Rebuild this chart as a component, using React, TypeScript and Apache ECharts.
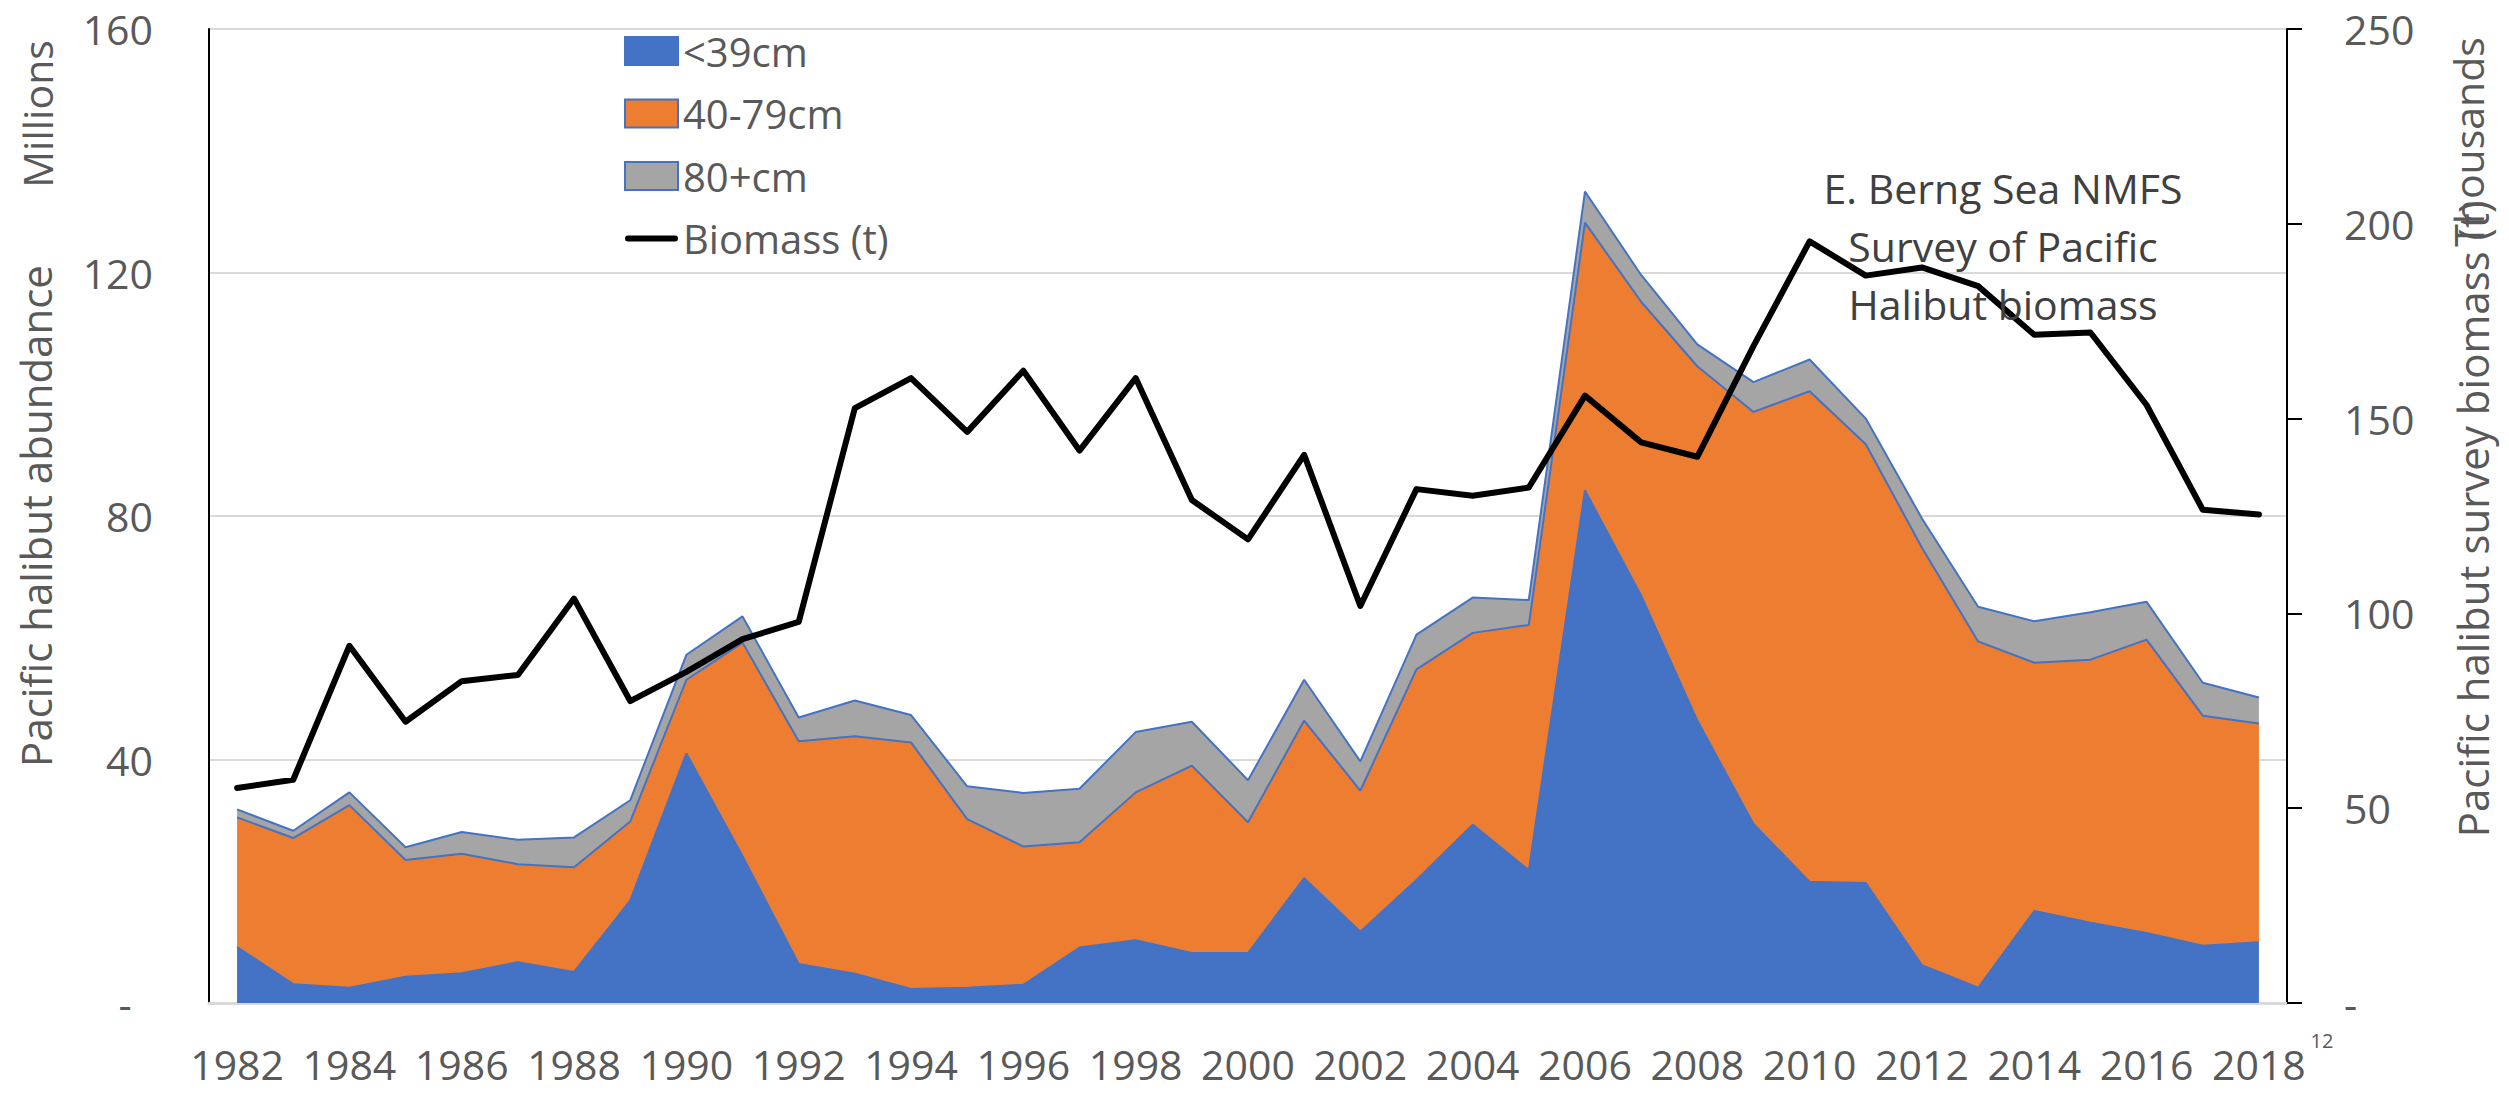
import React, { useEffect, useRef } from "react";
import * as echarts from "echarts";

const years = [
  "1982", "1983", "1984", "1985", "1986", "1987", "1988", "1989", "1990", "1991",
  "1992", "1993", "1994", "1995", "1996", "1997", "1998", "1999", "2000", "2001",
  "2002", "2003", "2004", "2005", "2006", "2007", "2008", "2009", "2010", "2011",
  "2012", "2013", "2014", "2015", "2016", "2017", "2018",
];

// Abundance (millions), stacked
const small = [
  9.2, 3.1, 2.5, 4.3, 4.9, 6.7, 5.1, 16.8, 41.0, 24.1,
  6.4, 4.8, 2.3, 2.5, 3.0, 9.1, 10.3, 8.2, 8.2, 20.5,
  11.7, 20.2, 29.3, 21.8, 84.2, 66.9, 46.4, 29.4, 19.9, 19.7,
  6.2, 2.5, 15.1, 13.2, 11.5, 9.4, 10.0,
];
const medium = [
  21.3, 24.0, 30.0, 19.2, 19.6, 16.1, 17.2, 13.0, 12.1, 35.1,
  36.6, 39.0, 40.5, 27.7, 22.7, 17.3, 24.3, 30.8, 21.5, 25.9,
  23.2, 34.6, 31.5, 40.3, 44.0, 48.3, 58.2, 67.7, 80.6, 72.1,
  68.6, 56.9, 40.8, 43.2, 48.2, 37.8, 35.9,
];
const large = [
  1.3, 1.2, 2.1, 2.1, 3.6, 4.0, 4.9, 3.5, 4.1, 4.3,
  3.9, 5.9, 4.5, 5.4, 8.8, 8.8, 9.9, 7.2, 6.9, 6.7,
  4.8, 5.7, 5.8, 4.1, 5.1, 4.4, 3.6, 4.9, 5.2, 4.2,
  4.8, 5.7, 6.8, 7.8, 6.2, 5.4, 4.3,
];
// Biomass (thousand t)
const biomass = [
  55.2, 57.3, 91.7, 72.2, 82.6, 84.2, 103.8, 77.5, 85.0, 93.4,
  97.8, 152.7, 160.4, 146.6, 162.3, 141.8, 160.4, 129.1, 119.0, 140.7,
  101.9, 131.9, 130.2, 132.3, 155.9, 143.9, 140.2, 168.6, 195.5, 186.7,
  188.8, 184.0, 171.5, 172.1, 153.5, 126.6, 125.4,
];

const seriesNames = ["<39cm", "40-79cm", "80+cm", "Biomass (t)"];
const leftTicks = { min: 0, max: 160, interval: 40 };
const rightTicks = { min: 0, max: 250, interval: 50 };
const annotation = "E. Berng Sea NMFS\nSurvey of Pacific\nHalibut biomass";

const FONT = "'Open Sans', Lato, sans-serif";
const GREY_TEXT = "#595959";
const EDGE = "#4472C4";

export default function App() {
  const ref = useRef<HTMLDivElement>(null);

  useEffect(() => {
    document.body.style.margin = "0";
    const chart = echarts.init(ref.current!, null, { renderer: "svg" });

    const areaSeries = (name: string, data: number[], color: string) => ({
      name,
      type: "line",
      stack: "abund",
      yAxisIndex: 0,
      data,
      symbol: "none",
      showSymbol: false,
      itemStyle: { color, borderColor: EDGE, borderWidth: 2 },
      lineStyle: { color: EDGE, width: 2 },
      areaStyle: { color, opacity: 1 },
      z: 2,
    });

    const txt = (
      text: string,
      x: number,
      y: number,
      size: number,
      fill: string,
      rotation = 0,
      lineHeight?: number
    ) => ({
      type: "text",
      x,
      y,
      rotation,
      z: 100,
      style: {
        text,
        fill,
        fontSize: size,
        fontFamily: FONT,
        lineHeight: lineHeight || size,
        align: "center",
        verticalAlign: "middle",
        textAlign: "center",
        textVerticalAlign: "middle",
      },
    });

    chart.setOption({
      animation: false,
      backgroundColor: "#ffffff",
      grid: { left: 209, right: 222, top: 29, bottom: 92, containLabel: false },
      legend: {
        orient: "vertical",
        left: 624,
        top: 31,
        padding: 0,
        itemWidth: 53,
        itemHeight: 28,
        itemGap: 22.5,
        symbolKeepAspect: true,
        textStyle: { fontFamily: FONT, fontSize: 40, lineHeight: 40, color: GREY_TEXT },
        data: [
          { name: seriesNames[0], icon: "rect", itemStyle: { borderColor: EDGE, borderWidth: 2 } },
          { name: seriesNames[1], icon: "rect", itemStyle: { borderColor: EDGE, borderWidth: 2 } },
          { name: seriesNames[2], icon: "rect", itemStyle: { borderColor: EDGE, borderWidth: 2 } },
          {
            name: seriesNames[3],
            icon: "path://M3,0L50,0A3,3,0,0,1,50,6L3,6A3,3,0,0,1,3,0Z",
            itemStyle: { color: "#000000", borderWidth: 0 },
          },
        ],
      },
      xAxis: {
        type: "category",
        data: years,
        boundaryGap: true,
        axisLine: { show: true, lineStyle: { color: "#D9D9D9", width: 3 } },
        axisTick: { show: false },
        axisLabel: {
          interval: 1,
          margin: 40,
          fontFamily: FONT,
          fontSize: 41,
          color: GREY_TEXT,
        },
      },
      yAxis: [
        {
          type: "value",
          position: "left",
          min: leftTicks.min,
          max: leftTicks.max,
          interval: leftTicks.interval,
          axisLine: { show: true, lineStyle: { color: "#000000", width: 2 } },
          axisTick: { show: false },
          splitLine: { show: true, lineStyle: { color: "#D9D9D9", width: 2 } },
          axisLabel: {
            margin: 56,
            fontFamily: FONT,
            fontSize: 41,
            color: GREY_TEXT,
            formatter: (v: number) => (v === 0 ? "-\u00a0\u00a0" : String(v)),
          },
        },
        {
          type: "value",
          position: "right",
          min: rightTicks.min,
          max: rightTicks.max,
          interval: rightTicks.interval,
          axisLine: { show: true, lineStyle: { color: "#000000", width: 2 } },
          axisTick: { show: true, length: 15, inside: false, lineStyle: { color: "#000000", width: 2 } },
          splitLine: { show: false },
          axisLabel: {
            margin: 57,
            fontFamily: FONT,
            fontSize: 41,
            color: GREY_TEXT,
            formatter: (v: number) => (v === 0 ? "-" : String(v)),
          },
        },
      ],
      series: [
        areaSeries(seriesNames[0], small, "#4472C4"),
        areaSeries(seriesNames[1], medium, "#ED7D31"),
        areaSeries(seriesNames[2], large, "#A5A5A5"),
        {
          name: seriesNames[3],
          type: "line",
          yAxisIndex: 1,
          data: biomass,
          symbol: "none",
          showSymbol: false,
          itemStyle: { color: "#000000" },
          lineStyle: { color: "#000000", width: 6, join: "round", cap: "round" },
          z: 5,
        },
      ],
      graphic: [
        txt("Millions", 37, 114, 41, GREY_TEXT, Math.PI / 2),
        txt("Pacific halibut abundance", 35, 516, 42, GREY_TEXT, Math.PI / 2),
        txt("Thousands", 2468, 142, 41, GREY_TEXT, Math.PI / 2),
        txt("Pacific halibut survey biomass (t)", 2472, 519, 42, GREY_TEXT, Math.PI / 2),
        txt(annotation, 2003, 246, 41, "#404040", 0, 58),
        txt("12", 2322, 1040, 20, GREY_TEXT),
      ],
    });

    return () => chart.dispose();
  }, []);

  return (
    <div
      ref={ref}
      style={{ position: "fixed", left: 0, top: 0, width: 2509, height: 1095, background: "#fff" }}
    />
  );
}
